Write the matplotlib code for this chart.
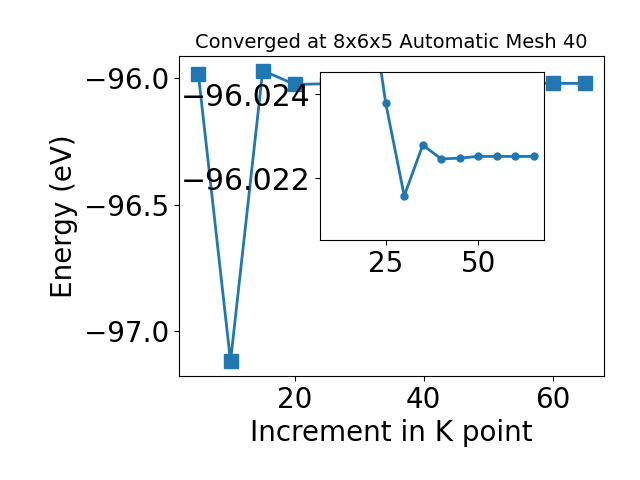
import numpy as np
import matplotlib
matplotlib.use("Agg")
import matplotlib.pyplot as plt
from matplotlib.ticker import MultipleLocator, ScalarFormatter

# k point increments and total energies (eV)
kpoints = [5, 10, 15, 20, 25, 30, 35, 40, 45, 50, 55, 60, 65]
energy = [-95.985, -97.118, -95.972, -96.0268, -96.02379, -96.02158, -96.02279,
          -96.02246, -96.02248, -96.02252, -96.02252, -96.02252, -96.02252]

inset_start = 3
inset_xticks = [25, 50]
inset_yticks = [-96.024, -96.022]

fig = plt.figure(figsize=(6.4, 4.8), dpi=100)
ax = fig.add_axes([0.2797, 0.2167, 0.6641, 0.6666])
ax.plot(kpoints, energy, marker='s', markersize=10, linewidth=2, color='#1f77b4')
ax.set_xlabel('Increment in K point', fontsize=20)
ax.set_ylabel('Energy (eV)', fontsize=20)
ax.set_title('Converged at 8x6x5 Automatic Mesh 40', fontsize=14)
ax.yaxis.set_major_locator(MultipleLocator(0.5))
ax.tick_params(labelsize=20)

# zoomed view of the converged tail
ins = fig.add_axes([0.5, 0.5, 0.35, 0.35])
ins.plot(kpoints[inset_start:], energy[inset_start:], marker='o', markersize=5,
         linewidth=2, color='#1f77b4')
ins.set_xlim(7.25, 67.75)
ins.set_ylim(-96.02053, -96.02453)
ins.set_xticks(inset_xticks)
ins.set_yticks(inset_yticks)
fmt = ScalarFormatter(useOffset=False)
ins.yaxis.set_major_formatter(fmt)
ins.tick_params(axis='x', labelsize=20)
ins.tick_params(axis='y', labelsize=21.5)

fig.savefig('out.png')
